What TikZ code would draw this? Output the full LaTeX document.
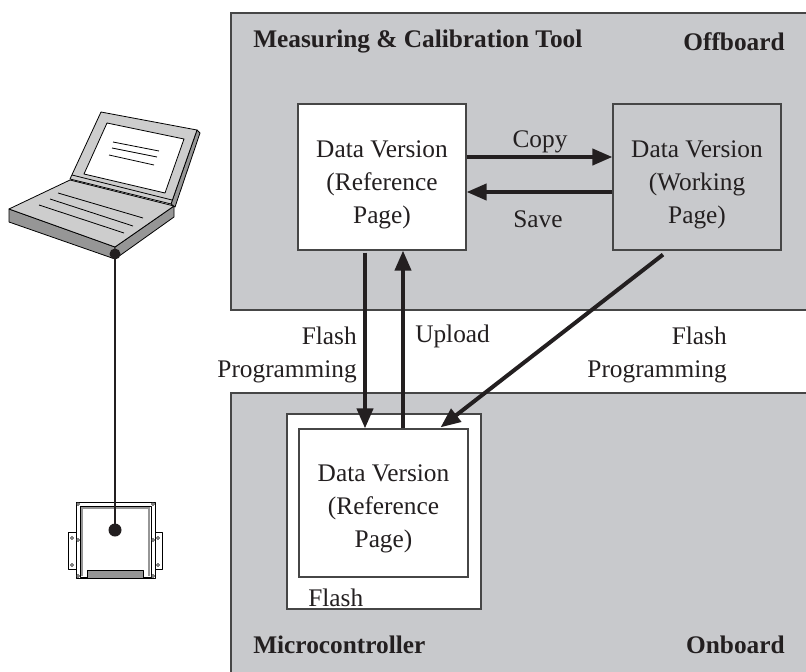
\documentclass[tikz,border=0pt]{standalone}
\usepackage{fontspec}
\setmainfont{Liberation Serif}
\usetikzlibrary{calc,arrows.meta}
\definecolor{panel}{RGB}{200,201,204}
\definecolor{edge}{RGB}{70,70,70}
\definecolor{ink}{RGB}{35,31,32}
\definecolor{lapgray}{RGB}{205,205,205}
\definecolor{lapdark}{RGB}{150,150,150}

\begin{document}
\begin{tikzpicture}[x=0.75pt,y=-0.75pt,
  txt/.style={font=\fontsize{19}{24.75}\selectfont, text=ink},
  title/.style={font=\fontsize{19}{24}\selectfont\bfseries, text=ink, inner sep=0},
  panelbox/.style={draw=edge, line width=1.5pt, fill=panel},
  page/.style={draw=edge, line width=0.9pt, fill=white,
    inner sep=0, minimum width=126pt, minimum height=109.5pt},
  flow/.style={draw=ink, line width=3pt, -{Triangle[length=15pt,width=12pt]}},
  lbl/.style={txt, inner sep=0},
  hw/.style={draw=black, line width=0.6pt, line join=round},
]
\useasboundingbox (0,0) rectangle (806,671);
\clip (0,0) rectangle (806,671);

% offboard and onboard panels
\draw[panelbox] (231,13) rectangle (815,310);
\draw[panelbox] (231,393) rectangle (815,680);

\node[title, anchor=west] (tool) at (253,42) {Measuring \& Calibration Tool};
\node[title, anchor=east] (off) at (785,42) {Offboard};
\node[title, anchor=west] (mcu) at (253,645) {Microcontroller};
\node[title, anchor=east] (on) at (785,645) {Onboard};

% data pages
\node[page] (ref) at (382,177) {};
\node[page, fill=panel] (work) at (697,177) {};
\node[draw=edge, line width=0.9pt, fill=white, inner sep=0,
  minimum width=145.5pt, minimum height=146.25pt] (flash) at (384,511.5) {};
\node[page, minimum width=126.75pt, minimum height=111pt] (inner) at (383.5,503) {};

\node[lbl, align=center] (reftext) at ($(ref)+(0,8)$) {Data Version\\(Reference\\Page)};
\node[lbl, align=center] (worktext) at ($(work)+(0,8)$) {Data Version\\(Working\\Page)};
\node[lbl, align=center] (innertext) at ($(inner)+(0,6)$) {Data Version\\(Reference\\Page)};
\node[lbl, anchor=west] (flashlbl) at (308,598) {Flash};

% transfers
\draw[flow] ($(ref.east)+(0,-20)$) -- ($(work.west)+(0,-20)$);
\draw[flow] ($(work.west)+(0,15)$) -- ($(ref.east)+(0,15)$);
\draw[flow] ($(ref.south)+(-17,2)$) -- ($(inner.north)+(-18.5,0)$);
\draw[flow] ($(inner.north)+(19.5,0)$) -- ($(ref.south)+(21,0)$);
\draw[flow] ($(work.south)+(-34,4)$) -- ($(inner.north)+(57,-1)$);

\node[lbl] (copy) at (540,142) {Copy};
\node[lbl] (save) at (538,219) {Save};
\node[lbl, align=right, anchor=east] (fp1) at (357,355) {Flash\\Programming};
\node[lbl, anchor=west] (upload) at (415,336) {Upload};
\node[lbl, align=right, anchor=east] (fp2) at (727,355) {Flash\\Programming};

% laptop
\draw[hw, fill=lapdark] (9,209) -- (115,247) -- (115,259) -- (9,222) -- cycle;
\draw[hw, fill=lapdark] (115,247) -- (174,206) -- (174,217) -- (115,259) -- cycle;
\draw[hw, fill=lapgray] (9,209) -- (70,180) -- (174,206) -- (115,247) -- cycle;
\draw[hw] (58,193) -- (143,218);
\draw[hw] (50,199) -- (133,226);
\draw[hw] (39,205) -- (124,233);
\draw[hw, fill=lapdark] (197,130) -- (200,133) -- (175,207) -- (171,204) -- cycle;
\draw[hw, fill=lapgray] (101,112) -- (197,130) -- (171,204) -- (70,179) -- cycle;
\draw[hw] (72,175) -- (172,200);
\draw[hw, fill=white] (107,123) -- (184,139) -- (165,193) -- (84,174) -- cycle;
\draw[hw] (113,142) -- (159,151);
\draw[hw] (112,148) -- (157,157);
\draw[hw] (109,155) -- (154,165);
\coordinate (lapport) at (115,254);

% control unit
\draw[hw, fill=white] (68,532) rectangle (76,569);
\draw[hw, fill=white] (155,532) rectangle (162,569);
\draw[hw, fill=white] (76,502) rectangle (155,578);
\draw[draw=lapdark, line width=2pt] (82,576) -- (82,508) -- (149,508) -- (149,576);
\draw[hw] (80,506) rectangle (151,577);
\draw[hw, fill=lapdark] (87,570) rectangle (143,578);
\foreach \p in {(78,504),(153,504),(78,576),(153,576),(78,540),(153,540),
                (72,538),(72,565),(158,538),(158,565)}
  \draw[hw, line width=0.4pt, fill=white] \p circle (1.6);
\coordinate (ecuport) at (115,530);

% cable
\draw[ink, line width=2pt] (lapport) -- (ecuport);
\fill[ink] (lapport) circle (5.5);
\fill[ink] (ecuport) circle (6.5);
\end{tikzpicture}
\end{document}
